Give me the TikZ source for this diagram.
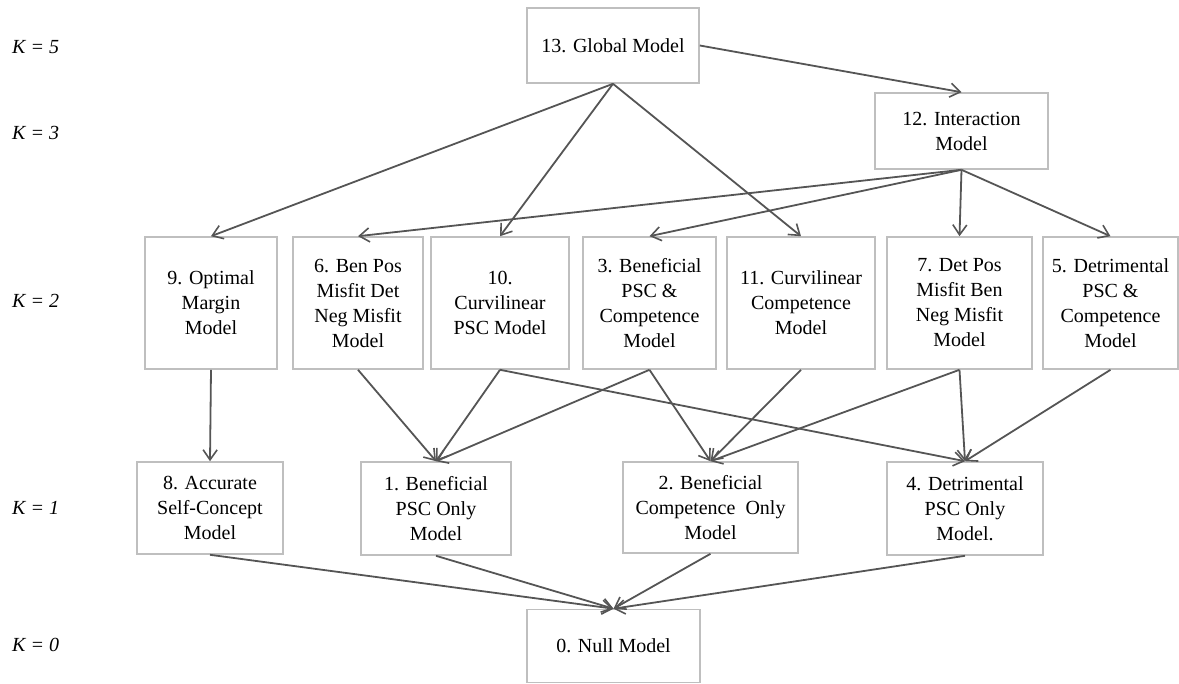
\documentclass[tikz,border=0pt]{standalone}
\usepackage{fontspec}
\setmainfont{Liberation Serif}
\usetikzlibrary{arrows.meta}
\definecolor{boxgray}{HTML}{BFBFBF}
\definecolor{linkgray}{HTML}{555555}
\tikzset{
  box/.style={draw=boxgray, line width=1.6pt, fill=white, align=center,
    inner sep=0pt, font=\fontsize{20}{25}\selectfont},
  link/.style={draw=linkgray, line width=1.8pt,
    -{Straight Barb[length=10pt,width=14pt,line width=1.6pt]}},
  klabel/.style={anchor=west, inner sep=0pt, font=\fontsize{20}{25}\selectfont\itshape}
}
\begin{document}
\begin{tikzpicture}[x=1pt,y=-1pt]
\useasboundingbox (0,0) rectangle (1179,684);

% level labels
\node[klabel] (k5) at (12,47) {K = 5};
\node[klabel] (k3) at (12,133) {K = 3};
\node[klabel] (k2) at (12,301) {K = 2};
\node[klabel] (k1) at (12,508) {K = 1};
\node[klabel] (k0) at (12,645) {K = 0};

% K = 5 and K = 3
\node[box, minimum width=172pt, minimum height=75pt] (m13) at (613,45.5) {13. Global Model};
\node[box, minimum width=173pt, minimum height=76pt] (m12) at (961.5,131) {12. Interaction\\Model};

% K = 2
\node[box, minimum width=132pt, minimum height=132pt] (m9) at (211,303) {9. Optimal\\Margin\\Model};
\node[box, minimum width=130pt, minimum height=132pt] (m6) at (358,303) {6. Ben Pos\\Misfit Det\\Neg Misfit\\Model};
\node[box, minimum width=138pt, minimum height=132pt] (m10) at (500,303) {10.\\Curvilinear\\PSC Model};
\node[box, minimum width=133pt, minimum height=132pt] (m3) at (649.5,303) {3. Beneficial\\PSC \&\\Competence\\Model};
\node[box, minimum width=148pt, minimum height=132pt] (m11) at (801,303) {11. Curvilinear\\Competence\\Model};
\node[box, minimum width=145pt, minimum height=132pt] (m7) at (959.5,303) {7. Det Pos\\Misfit Ben\\Neg Misfit\\Model};
\node[box, minimum width=135pt, minimum height=132pt] (m5) at (1110.5,303) {5. Detrimental\\PSC \&\\Competence\\Model};

% K = 1
\node[box, minimum width=146pt, minimum height=92pt] (m8) at (210,508) {8. Accurate\\Self-Concept\\Model};
\node[box, minimum width=150pt, minimum height=93pt] (m1) at (436,508.5) {1. Beneficial\\PSC Only\\Model};
\node[box, minimum width=175pt, minimum height=91pt] (m2) at (710.5,507.5) {2. Beneficial\\Competence\ \ Only\\Model};
\node[box, minimum width=156pt, minimum height=93pt] (m4) at (965,508.5) {4. Detrimental\\PSC Only\\Model.};

% K = 0
\node[box, minimum width=173pt, minimum height=73pt] (m0) at (613.5,646) {0. Null Model};

% nesting arrows
\draw[link] (m13.east) -- (m12.north);
\draw[link] (m13.south) -- (m9.north);
\draw[link] (m13.south) -- (m10.north);
\draw[link] (m13.south) -- (m11.north);

\draw[link] (m12.south) -- (m6.north);
\draw[link] (m12.south) -- (m3.north);
\draw[link] (m12.south) -- (m7.north);
\draw[link] (m12.south) -- (m5.north);

\draw[link] (m9.south) -- (m8.north);
\draw[link] (m6.south) -- (m1.north);
\draw[link] (m10.south) -- (m1.north);
\draw[link] (m3.south) -- (m1.north);
\draw[link] (m3.south) -- (m2.north);
\draw[link] (m11.south) -- (m2.north);
\draw[link] (m7.south) -- (m2.north);
\draw[link] (m10.south) -- (m4.north);
\draw[link] (m7.south) -- (m4.north);
\draw[link] (m5.south) -- (m4.north);

\draw[link] (m8.south) -- (m0.north);
\draw[link] (m1.south) -- (m0.north);
\draw[link] (m2.south) -- (m0.north);
\draw[link] (m4.south) -- (m0.north);
\end{tikzpicture}
\end{document}
